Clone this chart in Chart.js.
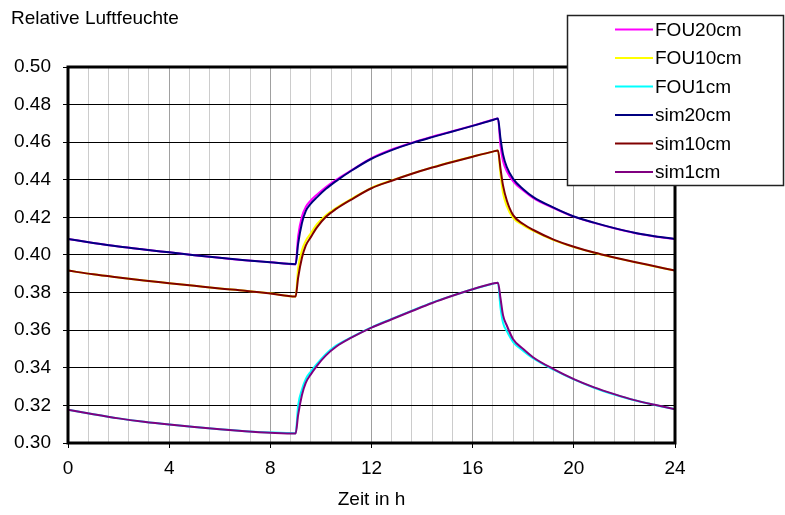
<!DOCTYPE html>
<html>
<head>
<meta charset="utf-8">
<script src="https://cdn.jsdelivr.net/npm/chart.js@4/dist/chart.umd.min.js"></script>
<style>
  html, body { margin: 0; padding: 0; background: #fff; }
  #wrap { width: 785px; height: 515px; }
</style>
</head>
<body>
<div id="wrap"><canvas id="chart" width="785" height="515"></canvas></div>
<script>
// Zeit in h (shared by all series)
const hours = [0, 1, 2, 3, 4, 5, 6, 7, 8, 9, 9.1, 9.25, 9.4, 9.6, 9.85, 10.2, 10.6, 11.2, 12,
  12.8, 13.6, 14.4, 15.2, 16, 16.8, 17, 17.1, 17.2, 17.35, 17.6, 18, 18.4, 19.2, 20,
  20.8, 21.6, 22.4, 23.2, 24];

// measured (FOU)
const fou20 = [0.4085, 0.4064, 0.4045, 0.4029, 0.4014, 0.3999, 0.3985, 0.3972, 0.3962, 0.3951,
  0.4100, 0.4205, 0.4255, 0.4290, 0.4322, 0.4362, 0.4400, 0.4450, 0.4515, 0.4561, 0.4597,
  0.4629, 0.4658, 0.4688, 0.4719, 0.4726, 0.4580, 0.4500, 0.4445, 0.4392, 0.4343, 0.4303,
  0.4250, 0.4204, 0.4171, 0.4142, 0.4117, 0.4099, 0.4085];
const fou10 = [0.3917, 0.3897, 0.3880, 0.3864, 0.3850, 0.3836, 0.3822, 0.3810, 0.3796, 0.3779,
  0.3930, 0.4025, 0.4075, 0.4115, 0.4165, 0.4212, 0.4250, 0.4298, 0.4357, 0.4397, 0.4433,
  0.4466, 0.4496, 0.4524, 0.4550, 0.4556, 0.4430, 0.4330, 0.4260, 0.4197, 0.4158, 0.4128,
  0.4079, 0.4042, 0.4012, 0.3986, 0.3962, 0.3939, 0.3917];
const fou1 = [0.3177, 0.3153, 0.3131, 0.3113, 0.3098, 0.3085, 0.3073, 0.3063, 0.3056, 0.3052,
  0.3200, 0.3285, 0.3340, 0.3380, 0.3422, 0.3474, 0.3518, 0.3562, 0.3615, 0.3660, 0.3704,
  0.3747, 0.3784, 0.3818, 0.3847, 0.3853, 0.3720, 0.3640, 0.3595, 0.3537, 0.3490, 0.3450,
  0.3390, 0.3338, 0.3294, 0.3258, 0.3227, 0.3202, 0.3180];

// simulated
const sim20 = [0.4085, 0.4064, 0.4045, 0.4029, 0.4014, 0.3999, 0.3985, 0.3972, 0.3961, 0.3951,
  0.4060, 0.4170, 0.4233, 0.4273, 0.4308, 0.4352, 0.4393, 0.4448, 0.4512, 0.4558, 0.4595,
  0.4627, 0.4657, 0.4687, 0.4718, 0.4726, 0.4620, 0.4535, 0.4467, 0.4405, 0.4350, 0.4308,
  0.4252, 0.4205, 0.4172, 0.4143, 0.4118, 0.4100, 0.4085];
const sim10 = [0.3917, 0.3897, 0.3880, 0.3864, 0.3850, 0.3836, 0.3822, 0.3810, 0.3795, 0.3779,
  0.3880, 0.3985, 0.4050, 0.4095, 0.4148, 0.4203, 0.4245, 0.4295, 0.4355, 0.4395, 0.4432,
  0.4465, 0.4495, 0.4523, 0.4550, 0.4556, 0.4460, 0.4370, 0.4290, 0.4212, 0.4165, 0.4133,
  0.4082, 0.4044, 0.4013, 0.3987, 0.3963, 0.3940, 0.3917];
const sim1 = [0.3177, 0.3153, 0.3131, 0.3113, 0.3098, 0.3085, 0.3073, 0.3063, 0.3055, 0.3050,
  0.3150, 0.3255, 0.3320, 0.3365, 0.3412, 0.3466, 0.3512, 0.3560, 0.3614, 0.3658, 0.3702,
  0.3745, 0.3783, 0.3818, 0.3848, 0.3853, 0.3770, 0.3680, 0.3625, 0.3552, 0.3500, 0.3455,
  0.3393, 0.3340, 0.3296, 0.3260, 0.3228, 0.3203, 0.3180];

const yTicks = [0.30, 0.32, 0.34, 0.36, 0.38, 0.40, 0.42, 0.44, 0.46, 0.48, 0.50];
const xLabels = [0, 4, 8, 12, 16, 20, 24];

const FONT = "'Liberation Sans', Arial, sans-serif";
const FSIZE = 19;

function pts(ys) {
    return hours.map((h, i) => ({ x: h, y: ys[i] }));
}

function isMajor(v) {
    return xLabels.some(l => Math.abs(l - v) < 1e-6);
}

// frame, title and legend box
const decorations = {
    id: 'decorations',
    afterDatasetsDraw(chart) {
        const { ctx, chartArea: a } = chart;
        ctx.save();
        ctx.strokeStyle = '#000';
        ctx.lineWidth = 3;
        ctx.strokeRect(a.left, a.top, a.right - a.left, a.bottom - a.top);
        ctx.restore();
    },
    afterDraw(chart) {
        const ctx = chart.ctx;
        ctx.save();
        ctx.font = FSIZE + 'px ' + FONT;
        ctx.fillStyle = '#000';
        ctx.textBaseline = 'middle';
        ctx.textAlign = 'left';
        ctx.fillText('Relative Luftfeuchte', 11, 19);

        // legend
        ctx.fillStyle = '#fff';
        ctx.fillRect(567.5, 15.5, 216, 170);
        ctx.strokeStyle = '#222';
        ctx.lineWidth = 1.5;
        ctx.strokeRect(567.5, 15.5, 216, 170);
        chart.data.datasets.forEach((ds, i) => {
            const y = 29.5 + i * 28.5;
            ctx.strokeStyle = ds.borderColor;
            ctx.lineWidth = 2;
            ctx.beginPath();
            ctx.moveTo(615, y);
            ctx.lineTo(653, y);
            ctx.stroke();
            ctx.fillStyle = '#000';
            ctx.fillText(ds.label, 655, y + 1);
        });
        ctx.restore();
    }
};

const ctx = document.getElementById('chart').getContext('2d');

new Chart(ctx, {
    type: 'line',
    data: {
        datasets: [
            { label: 'FOU20cm', data: pts(fou20), borderColor: '#ff00ff', order: 1 },
            { label: 'FOU10cm', data: pts(fou10), borderColor: '#ffff00', order: 1 },
            { label: 'FOU1cm', data: pts(fou1), borderColor: '#00ffff', order: 1 },
            { label: 'sim20cm', data: pts(sim20), borderColor: '#000080', order: 0 },
            { label: 'sim10cm', data: pts(sim10), borderColor: '#800000', order: 0 },
            { label: 'sim1cm', data: pts(sim1), borderColor: '#800080', order: 0 }
        ]
    },
    options: {
        responsive: false,
        animation: false,
        datasets: {
            line: { borderWidth: 2, pointRadius: 0, cubicInterpolationMode: 'monotone', fill: false }
        },
        layout: { padding: { top: 67, right: 110, bottom: 0, left: 0 } },
        plugins: {
            legend: { display: false },
            tooltip: { enabled: false }
        },
        scales: {
            x: {
                type: 'linear',
                min: 0,
                max: 24,
                afterBuildTicks: (scale) => {
                    const t = [];
                    for (let i = 0; i <= 30; i++) t.push({ value: +(i * 0.8).toFixed(1) });
                    scale.ticks = t;
                },
                afterFit: (scale) => { scale.height = 72; },
                grid: {
                    color: (c) => (c.tick && isMajor(c.tick.value)) ? '#a0a0a0' : '#cccccc',
                    tickColor: (c) => (c.tick && isMajor(c.tick.value)) ? '#000' : 'rgba(0,0,0,0)',
                    tickLength: 5,
                    lineWidth: 1
                },
                border: { display: false },
                ticks: {
                    autoSkip: false,
                    maxRotation: 0,
                    padding: 9,
                    color: '#000',
                    font: { family: FONT, size: FSIZE },
                    callback: (v) => isMajor(v) ? String(Math.round(v)) : ''
                },
                title: {
                    display: true,
                    text: 'Zeit in h',
                    color: '#000',
                    font: { family: FONT, size: FSIZE },
                    padding: { top: 0, bottom: 4 }
                }
            },
            y: {
                min: 0.30,
                max: 0.50,
                afterBuildTicks: (scale) => {
                    scale.ticks = yTicks.map(v => ({ value: v }));
                },
                afterFit: (scale) => { scale.width = 68; },
                grid: {
                    color: '#000',
                    tickColor: '#000',
                    tickLength: 5,
                    lineWidth: 1
                },
                border: { display: false },
                ticks: {
                    padding: 12,
                    color: '#000',
                    font: { family: FONT, size: FSIZE },
                    callback: (v) => v.toFixed(2)
                }
            }
        }
    },
    plugins: [decorations]
});
</script>
</body>
</html>
